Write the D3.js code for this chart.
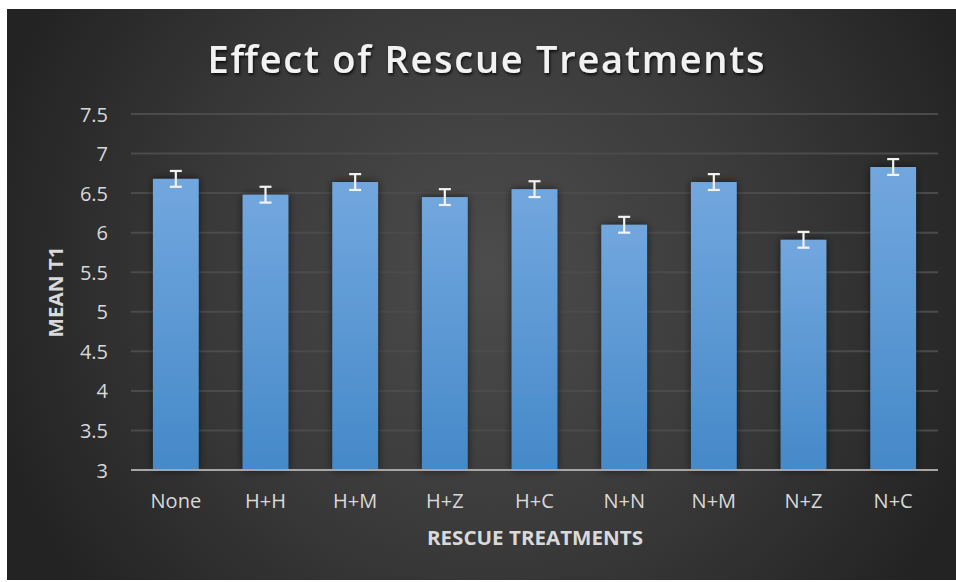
<!DOCTYPE html>
<html><head><meta charset="utf-8">
<script src="https://cdn.jsdelivr.net/npm/d3@7"></script>
<style>
html,body{margin:0;padding:0;background:#fff;}
svg{display:block;}
text{font-family:"Open Sans",sans-serif;}
</style></head>
<body>
<script>
const categories = ["None","H+H","H+M","H+Z","H+C","N+N","N+M","N+Z","N+C"];
const means = [6.68,6.48,6.64,6.45,6.55,6.10,6.64,5.91,6.83];
const errors = [0.10,0.10,0.10,0.10,0.10,0.10,0.10,0.10,0.10];
const yTicks = [3,3.5,4,4.5,5,5.5,6,6.5,7,7.5];
const title = "Effect of Rescue Treatments";
const xTitle = "RESCUE TREATMENTS";
const yTitle = "MEAN T1";

const W = 956, H = 582;
const svg = d3.select("body").append("svg").attr("width", W).attr("height", H);
const defs = svg.append("defs");

const rg = defs.append("radialGradient").attr("id","bg")
  .attr("gradientUnits","userSpaceOnUse").attr("cx",490).attr("cy",270).attr("r",520);
rg.append("stop").attr("offset","0").attr("stop-color","#4c4c4c");
rg.append("stop").attr("offset","0.55").attr("stop-color","#393939");
rg.append("stop").attr("offset","1").attr("stop-color","#232323");

const bg = defs.append("linearGradient").attr("id","bar").attr("x1",0).attr("y1",0).attr("x2",0).attr("y2",1);
bg.append("stop").attr("offset","0").attr("stop-color","#72a7de");
bg.append("stop").attr("offset","1").attr("stop-color","#4589c9");

const sh = defs.append("filter").attr("id","shadow").attr("x","-30%").attr("y","-10%").attr("width","160%").attr("height","120%");
sh.append("feGaussianBlur").attr("in","SourceAlpha").attr("stdDeviation",4).attr("result","b");
sh.append("feOffset").attr("in","b").attr("dx",0).attr("dy",0).attr("result","o");
sh.append("feComponentTransfer").attr("in","o").attr("result","o2").append("feFuncA").attr("type","linear").attr("slope",0.6);
const m = sh.append("feMerge"); m.append("feMergeNode").attr("in","o2"); m.append("feMergeNode").attr("in","SourceGraphic");

const tsh = defs.append("filter").attr("id","tshadow").attr("x","-10%").attr("y","-30%").attr("width","120%").attr("height","160%");
tsh.append("feGaussianBlur").attr("in","SourceAlpha").attr("stdDeviation",1.5).attr("result","b");
tsh.append("feOffset").attr("in","b").attr("dx",1).attr("dy",2).attr("result","o");
tsh.append("feComponentTransfer").attr("in","o").attr("result","o2").append("feFuncA").attr("type","linear").attr("slope",0.8);
const m2 = tsh.append("feMerge"); m2.append("feMergeNode").attr("in","o2"); m2.append("feMergeNode").attr("in","SourceGraphic");

svg.append("rect").attr("x",7).attr("y",9).attr("width",W-7).attr("height",571).attr("fill","url(#bg)");

const plot = {left:131, right:938, top:114, bottom:470};
const x = d3.scaleBand().domain(categories).range([plot.left, plot.right]).paddingInner(0.49).paddingOuter(0.245);
const y = d3.scaleLinear().domain([3,7.5]).range([plot.bottom, plot.top]);

// gridlines
svg.append("g").selectAll("line").data(yTicks.filter(d=>d>3)).join("line")
  .attr("x1",plot.left).attr("x2",plot.right)
  .attr("y1",d=>y(d)).attr("y2",d=>y(d))
  .attr("stroke","#4b4b4b").attr("stroke-width",2);

// y axis labels
const yAxis = d3.axisLeft(y).tickValues(yTicks).tickSize(0).tickPadding(0).tickFormat(d=>String(d));
const ya = svg.append("g").attr("transform",`translate(108,0)`).call(yAxis);
ya.select(".domain").remove();
ya.selectAll("text").attr("fill","#d9d9d9").attr("font-size",20).attr("font-family","Open Sans, sans-serif").attr("dy","0.35em");

// bars
svg.append("g").selectAll("rect").data(categories).join("rect")
  .attr("x",d=>x(d)).attr("width",x.bandwidth())
  .attr("y",(d,i)=>y(means[i])).attr("height",(d,i)=>y(3)-y(means[i]))
  .attr("fill","url(#bar)").attr("filter","url(#shadow)");

// x axis
const xAxis = d3.axisBottom(x).tickSize(0).tickPadding(0);
const xa = svg.append("g").attr("transform",`translate(0,${plot.bottom})`).call(xAxis);
xa.select(".domain").remove();
xa.selectAll("text").attr("fill","#d9d9d9").attr("font-size",20).attr("font-family","Open Sans, sans-serif").attr("dy",null).attr("y",38);
svg.append("line").attr("x1",plot.left).attr("x2",plot.right).attr("y1",plot.bottom).attr("y2",plot.bottom)
  .attr("stroke","#a6a6a6").attr("stroke-width",2);

// error bars
const eb = svg.append("g").attr("stroke","#f2f2f2").attr("stroke-width",2.2);
categories.forEach((c,i)=>{
  const cx = x(c)+x.bandwidth()/2;
  const hi = y(means[i]+errors[i]), lo = y(means[i]-errors[i]);
  eb.append("line").attr("x1",cx).attr("x2",cx).attr("y1",hi).attr("y2",lo);
  eb.append("line").attr("x1",cx-6).attr("x2",cx+6).attr("y1",hi).attr("y2",hi);
  eb.append("line").attr("x1",cx-6).attr("x2",cx+6).attr("y1",lo).attr("y2",lo);
});

// titles
svg.append("text").attr("x",486).attr("y",73).attr("text-anchor","middle")
  .attr("font-size",38).attr("font-weight",600).attr("fill","#f2f2f2")
  .attr("textLength",557).attr("lengthAdjust","spacing")
  .attr("filter","url(#tshadow)").text(title);

svg.append("text").attr("x",535).attr("y",545).attr("text-anchor","middle")
  .attr("font-size",19).attr("font-weight","bold").attr("fill","#d9d9d9")
  .attr("textLength",216).attr("lengthAdjust","spacingAndGlyphs").text(xTitle);

svg.append("text").attr("transform","translate(63,292) rotate(-90)").attr("text-anchor","middle")
  .attr("font-size",19).attr("font-weight","bold").attr("fill","#d9d9d9")
  .attr("textLength",91).attr("lengthAdjust","spacingAndGlyphs").text(yTitle);
</script>
</body></html>
